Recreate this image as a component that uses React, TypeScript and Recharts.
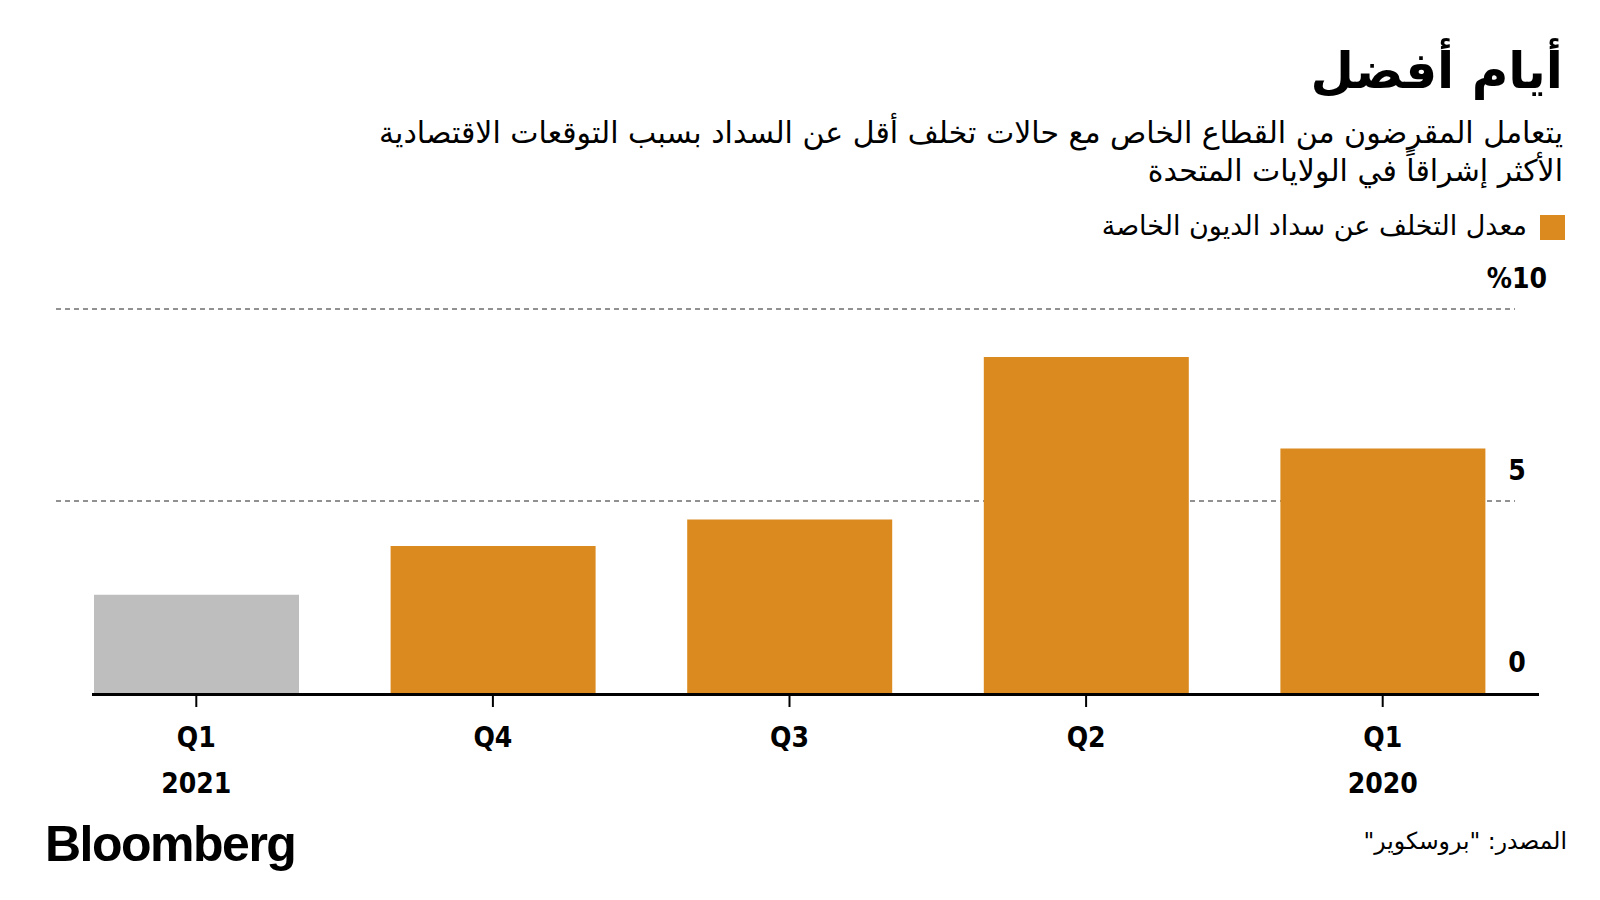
import React from "react";
import { BarChart, Bar, XAxis, YAxis, CartesianGrid, Cell } from "recharts";

const quarters = ["Q1", "Q4", "Q3", "Q2", "Q1"];
const years = ["2021", "", "", "", "2020"];
const defaultRates = [2.56, 3.83, 4.52, 8.75, 6.37];
const barColors = ["#BEBEBE", "#DB8A1F", "#DB8A1F", "#DB8A1F", "#DB8A1F"];
const yTicks = [0, 5, 10];

const data = quarters.map((q, i) => ({
  id: `${q}-${years[i] || i}`,
  quarter: q,
  year: years[i],
  value: defaultRates[i],
}));

const ARABIC = "'DejaVu Sans', 'Noto Sans', sans-serif";
const CONDENSED = "'Liberation Sans Narrow', 'DejaVu Sans Condensed', 'Liberation Sans', sans-serif";

const XTick = (props: any) => {
  const { x, y, index } = props;
  const d = data[index];
  return (
    <g>
      <text
        x={x}
        y={y + 30}
        textAnchor="middle"
        dominantBaseline="central"
        fontFamily={CONDENSED}
        fontWeight="bold"
        fontSize={28}
        fill="#000"
      >
        {d ? d.quarter : ""}
      </text>
      {d && d.year ? (
        <text
          x={x}
          y={y + 76}
          textAnchor="middle"
          dominantBaseline="central"
          fontFamily={CONDENSED}
          fontWeight="bold"
          fontSize={28}
          fill="#000"
        >
          {d.year}
        </text>
      ) : null}
    </g>
  );
};

const YTick = (props: any) => {
  const { x, y, payload } = props;
  const v = payload.value;
  return (
    <text
      x={x - 14}
      y={y - 31}
      textAnchor="middle"
      dominantBaseline="central"
      fontFamily={CONDENSED}
      fontWeight="bold"
      fontSize={28}
      fill="#000"
    >
      {v === 10 ? "%10" : String(v)}
    </text>
  );
};

const GridLine = (p: any) => {
  // zero line = solid black baseline, a bit offset from the plot edges
  if (Math.abs(p.y1 - (p.y + p.height)) < 1) {
    return (
      <line
        key={p.key}
        x1={p.x1 + 44}
        x2={p.x2 + 8}
        y1={p.y1 + 1.5}
        y2={p.y2 + 1.5}
        stroke="#000"
        strokeWidth={3}
      />
    );
  }
  return (
    <line
      key={p.key}
      x1={p.x1 + 8}
      x2={p.x2 - 16}
      y1={p.y1}
      y2={p.y2}
      stroke="#6E6E6E"
      strokeWidth={1.5}
      strokeDasharray="5 4"
    />
  );
};

export default function App() {
  return (
    <div
      style={{
        position: "absolute",
        left: 0,
        top: 0,
        width: 1600,
        height: 900,
        background: "#fff",
        overflow: "hidden",
      }}
    >
      <BarChart
        width={1600}
        height={900}
        data={data}
        margin={{ top: 309, right: 9, bottom: 107, left: 48 }}
        style={{ position: "absolute", left: 0, top: 0 }}
      >
        <CartesianGrid vertical={false} horizontal={GridLine} />
        <XAxis
          dataKey="id"
          axisLine={false}
          tickLine={{ stroke: "#000", strokeWidth: 2 }}
          tickSize={14}
          tickMargin={0}
          height={100}
          interval={0}
          tick={<XTick />}
        />
        <YAxis
          orientation="right"
          domain={[0, 10]}
          ticks={yTicks}
          axisLine={false}
          tickLine={false}
          tickSize={0}
          tickMargin={0}
          width={60}
          tick={<YTick />}
        />
        <Bar dataKey="value" barSize={205} isAnimationActive={false}>
          {data.map((d, i) => (
            <Cell key={d.id} fill={barColors[i]} />
          ))}
        </Bar>
      </BarChart>

      <div
        style={{
          position: "absolute",
          right: 37,
          top: 38,
          direction: "rtl",
          fontFamily: ARABIC,
          fontWeight: "bold",
          fontSize: 50,
          lineHeight: "66px",
          color: "#000",
        }}
      >
        أيام أفضل
      </div>
      <div
        style={{
          position: "absolute",
          right: 37,
          top: 114,
          width: 1300,
          direction: "rtl",
          textAlign: "right",
          fontFamily: ARABIC,
          fontSize: 30,
          lineHeight: "38px",
          color: "#000",
        }}
      >
        يتعامل المقرضون من القطاع الخاص مع حالات تخلف أقل عن السداد بسبب التوقعات الاقتصادية
        <br />
        الأكثر إشراقاً في الولايات المتحدة
      </div>
      <div
        style={{
          position: "absolute",
          right: 35,
          top: 215,
          width: 25,
          height: 25,
          background: "#DB8A1F",
        }}
      />
      <div
        style={{
          position: "absolute",
          right: 73,
          top: 209,
          direction: "rtl",
          fontFamily: ARABIC,
          fontSize: 27,
          lineHeight: "34px",
          color: "#000",
          whiteSpace: "nowrap",
        }}
      >
        معدل التخلف عن سداد الديون الخاصة
      </div>

      <div
        style={{
          position: "absolute",
          left: 45,
          top: 816,
          fontFamily: "'Liberation Sans', Arial, sans-serif",
          fontWeight: "bold",
          fontSize: 50,
          letterSpacing: -1.5,
          lineHeight: "56px",
          color: "#000",
        }}
      >
        Bloomberg
      </div>
      <div
        style={{
          position: "absolute",
          right: 33,
          top: 826,
          direction: "rtl",
          fontFamily: ARABIC,
          fontSize: 23.5,
          lineHeight: "30px",
          color: "#000",
          whiteSpace: "nowrap",
        }}
      >
        المصدر: "بروسكوير"
      </div>
    </div>
  );
}
